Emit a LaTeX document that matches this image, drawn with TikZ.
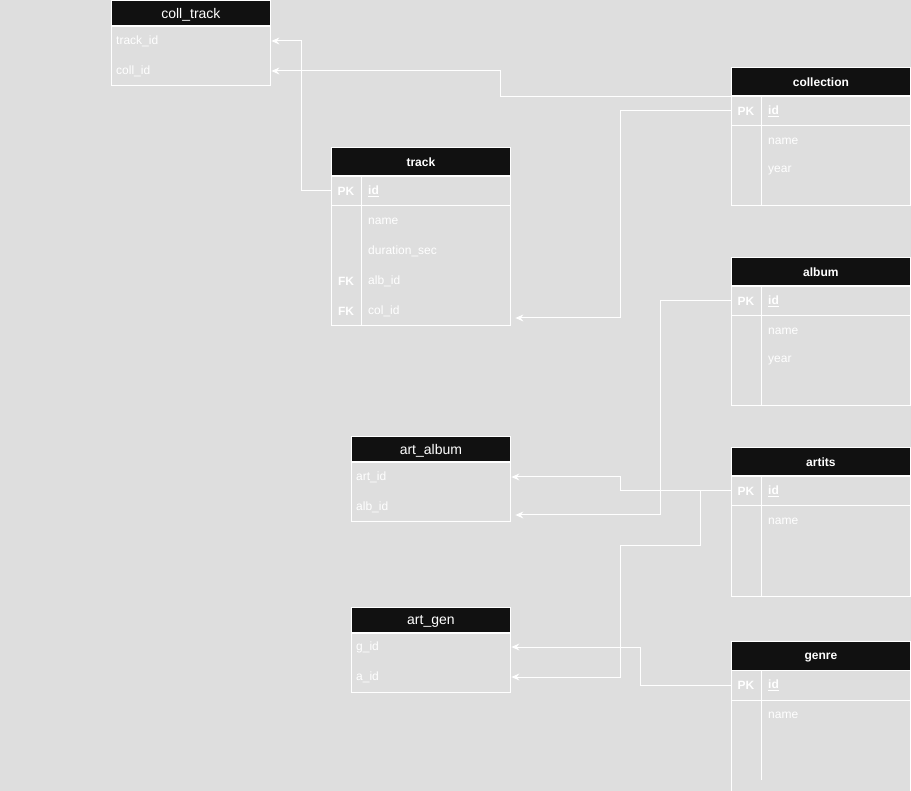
\documentclass[tikz,border=0pt]{standalone}
\usepackage{fontspec}
\setmainfont{Liberation Sans}
\usetikzlibrary{arrows.meta}
\definecolor{bgc}{RGB}{222,222,222}
\definecolor{hdrc}{RGB}{17,17,17}
\begin{document}
\begin{tikzpicture}[x=1pt,y=-1pt,
  hdr/.style={fill=hdrc, draw=white, line width=0.8pt, text=white, inner sep=0, anchor=north west, text depth=0pt},
  hdrB/.style={hdr, font=\fontsize{12}{14}\selectfont\bfseries},
  hdrN/.style={hdr, font=\fontsize{14}{16}\selectfont},
  body/.style={draw=white, line width=1pt},
  fld/.style={text=white, font=\fontsize{12}{14}\selectfont, anchor=west, inner sep=0},
  keyc/.style={text=white, font=\fontsize{12}{14}\selectfont\bfseries, inner sep=0},
  row/.style={inner sep=0, minimum height=30pt, anchor=west},
  conn/.style={draw=white, line width=1pt, -{Stealth[length=8pt,width=7pt]}}]
\useasboundingbox (0,0) rectangle (911,791);
\fill[bgc] (0,0) rectangle (911,791);
\clip (0,0) rectangle (911,791);

% ---------- coll_track ----------
\node[hdrN, minimum width=159pt, minimum height=26pt] (ct-h) at (111,0.5) {coll\_track};
\draw[body] (111,26) rectangle (270,86);
\node[row, minimum width=159pt] (ct-track) at (111,41) {};
\node[row, minimum width=159pt] (ct-coll) at (111,71) {};
\node[fld] (ct-track-t) at (116,41) {track\_id};
\node[fld] (ct-coll-t) at (116,71) {coll\_id};

% ---------- track ----------
\node[hdrB, minimum width=179pt, minimum height=29pt] (tr-h) at (331,147) {track};
\draw[body] (331,176) rectangle (510,326);
\draw[body] (331,206) -- (510,206);
\draw[body] (361,176) -- (361,326);
\node[row, minimum width=179pt] (track-id) at (331,191) {};
\node[row, minimum width=179pt] (track-col) at (331,311) {};
\node[keyc] (tr-pk) at (346,191) {PK};
\node[keyc] (tr-fk1) at (346,281) {FK};
\node[keyc] (tr-fk2) at (346,311) {FK};
\node[fld, font=\fontsize{12}{14}\selectfont\bfseries] (tr-id-t) at (368,191) {\underline{id}};
\node[fld] (tr-name-t) at (368,221) {name};
\node[fld] (tr-dur-t) at (368,251) {duration\_sec};
\node[fld] (tr-alb-t) at (368,281) {alb\_id};
\node[fld] (tr-col-t) at (368,311) {col\_id};

% ---------- collection ----------
\node[hdrB, minimum width=179pt, minimum height=29pt] (col-h) at (731,67) {collection};
\draw[body] (731,96) rectangle (910,206);
\draw[body] (731,126) -- (910,126);
\draw[body] (761,96) -- (761,206);
\node[row, minimum width=179pt] (col-id) at (731,111) {};
\node[keyc] (col-pk) at (746,111) {PK};
\node[fld, font=\fontsize{12}{14}\selectfont\bfseries] (col-id-t) at (768,111) {\underline{id}};
\node[fld] (col-name-t) at (768,141) {name};
\node[fld] (col-year-t) at (768,171) {year};

% ---------- album ----------
\node[hdrB, minimum width=179pt, minimum height=29pt] (alb-h) at (731,257) {album};
\draw[body] (731,286) rectangle (910,406);
\draw[body] (731,316) -- (910,316);
\draw[body] (761,286) -- (761,406);
\node[row, minimum width=179pt] (alb-id) at (731,301) {};
\node[keyc] (alb-pk) at (746,301) {PK};
\node[fld, font=\fontsize{12}{14}\selectfont\bfseries] (alb-id-t) at (768,301) {\underline{id}};
\node[fld] (alb-name-t) at (768,331) {name};
\node[fld] (alb-year-t) at (768,361) {year};

% ---------- artits ----------
\node[hdrB, minimum width=179pt, minimum height=29pt] (art-h) at (731,447) {artits};
\draw[body] (731,476) rectangle (910,596);
\draw[body] (731,506) -- (910,506);
\draw[body] (761,476) -- (761,596);
\node[row, minimum width=179pt] (art-id) at (731,491) {};
\node[keyc] (art-pk) at (746,491) {PK};
\node[fld, font=\fontsize{12}{14}\selectfont\bfseries] (art-id-t) at (768,491) {\underline{id}};
\node[fld] (art-name-t) at (768,521) {name};

% ---------- genre ----------
\node[hdrB, minimum width=179pt, minimum height=29pt] (gen-h) at (731,641) {genre};
\draw[body] (731,670) rectangle (910,820);
\draw[body] (731,700) -- (910,700);
\draw[body] (761,670) -- (761,780);
\node[row, minimum width=179pt] (gen-id) at (731,685) {};
\node[keyc] (gen-pk) at (746,685) {PK};
\node[fld, font=\fontsize{12}{14}\selectfont\bfseries] (gen-id-t) at (768,685) {\underline{id}};
\node[fld] (gen-name-t) at (768,715) {name};

% ---------- art_album ----------
\node[hdrN, minimum width=159pt, minimum height=26pt] (aa-h) at (351,436.5) {art\_album};
\draw[body] (351,462) rectangle (510,522);
\node[row, minimum width=159pt] (aa-art) at (351,477) {};
\node[row, minimum width=159pt] (aa-alb) at (351,507) {};
\node[fld] (aa-art-t) at (356,477) {art\_id};
\node[fld] (aa-alb-t) at (356,507) {alb\_id};

% ---------- art_gen ----------
\node[hdrN, minimum width=159pt, minimum height=26pt] (ag-h) at (351,606.5) {art\_gen};
\draw[body] (351,632) rectangle (510,692);
\node[row, minimum width=159pt] (ag-g) at (351,647) {};
\node[row, minimum width=159pt] (ag-a) at (351,677) {};
\node[fld] (ag-g-t) at (356,647) {g\_id};
\node[fld] (ag-a-t) at (356,677) {a\_id};

% ---------- connectors ----------
\draw[conn] (track-id.west) -- ++(-30,0) |- ([xshift=1pt]ct-track.east);
\draw[conn] (col-h.south west) -- ++(-231,0) |- ([xshift=1pt]ct-coll.east);
\draw[conn] (col-id.west) -- ++(-111,0) |- ([shift={(5,7)}]track-col.east);
\draw[conn] (alb-id.west) -- ++(-71,0) |- ([shift={(5,8)}]aa-alb.east);
\draw[conn] (art-id.west) -- ++(-111,0) |- ([xshift=1pt]aa-art.east);
\draw[conn] (art-id.west) -- ++(-31,0) -- ++(0,55) -- ++(-80,0) |- ([xshift=1pt]ag-a.east);
\draw[conn] (gen-id.west) -- ++(-91,0) |- ([xshift=1pt]ag-g.east);
\end{tikzpicture}
\end{document}
